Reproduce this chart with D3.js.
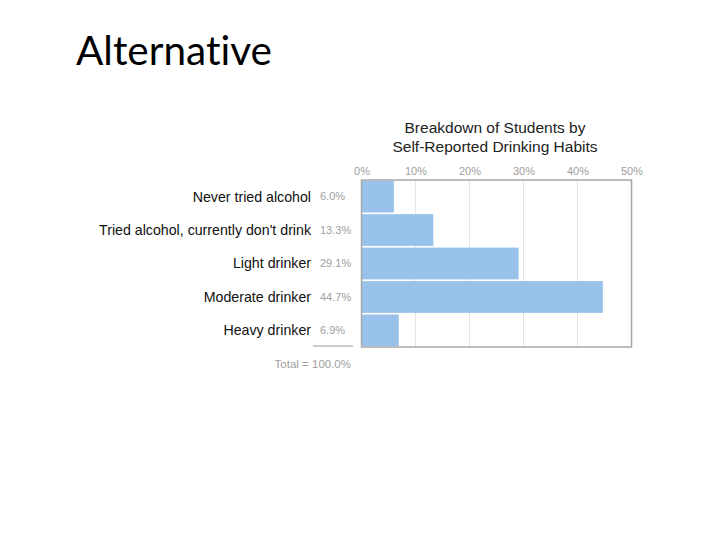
<!DOCTYPE html>
<html><head><meta charset="utf-8">
<script src="https://cdn.jsdelivr.net/npm/d3@7"></script>
<style>body{margin:0;background:#fff;} svg{display:block;} text{font-variant-ligatures:none;}</style>
</head><body>
<svg id="c" width="720" height="540"></svg>
<script>
const categories = ["Never tried alcohol","Tried alcohol, currently don't drink","Light drinker","Moderate drinker","Heavy drinker"];
const values = [6.0, 13.3, 29.1, 44.7, 6.9];
const valueLabels = ["6.0%","13.3%","29.1%","44.7%","6.9%"];
const tickValues = [0,10,20,30,40,50];
const tickLabels = ["0%","10%","20%","30%","40%","50%"];
const titleLines = ["Breakdown of Students by","Self-Reported Drinking Habits"];
const totalLabel = "Total = 100.0%";

const svg = d3.select("#c");
const ff = "'Liberation Sans', Arial, sans-serif";

svg.append("text").attr("x",76).attr("y",65)
  .attr("font-family","Lato, 'Open Sans', sans-serif").attr("font-size",40.5)
  .attr("fill","#000").text("Alternative");

const x = d3.scaleLinear().domain([0,50]).range([361.5,631.5]);
const y = d3.scaleBand().domain(categories).range([180,347]).paddingInner(0.05).paddingOuter(0.02);

// title
svg.selectAll("text.title").data(titleLines).enter().append("text")
  .attr("class","title").attr("x",495).attr("y",(d,i)=>133+i*18.5)
  .attr("text-anchor","middle").attr("font-family",ff).attr("font-size",15.5)
  .attr("fill","#222").text(d=>d);

// grid
svg.append("g").selectAll("line").data(tickValues.slice(1,-1)).enter().append("line")
  .attr("x1",d=>x(d)).attr("x2",d=>x(d)).attr("y1",180).attr("y2",347)
  .attr("stroke","#e4e4e4").attr("stroke-width",1);

// top axis labels
const ax = svg.append("g").attr("transform","translate(0,175)")
  .call(d3.axisTop(x).tickValues(tickValues).tickFormat((d,i)=>tickLabels[i]).tickSize(0).tickPadding(0));
ax.select(".domain").remove();
ax.selectAll("text").attr("font-family",ff).attr("font-size",11).attr("fill","#a0a0a0");

// bars
svg.append("g").selectAll("rect").data(values).enter().append("rect")
  .attr("x",x(0)).attr("y",(d,i)=>y(categories[i]))
  .attr("width",d=>x(d)-x(0)).attr("height",y.bandwidth())
  .attr("fill","#99c2ea");

// frame
svg.append("rect").attr("x",x(0)).attr("y",180).attr("width",x(50)-x(0)).attr("height",167)
  .attr("fill","none").attr("stroke","#a8a8a8").attr("stroke-width",1.5);

// category labels
svg.append("g").selectAll("text").data(categories).enter().append("text")
  .attr("x",311).attr("y",d=>y(d)+y.bandwidth()/2).attr("dy","0.35em")
  .attr("text-anchor","end").attr("font-family",ff).attr("font-size",14.2)
  .attr("fill","#111").text(d=>d);

// value labels
svg.append("g").selectAll("text").data(valueLabels).enter().append("text")
  .attr("x",320).attr("y",(d,i)=>y(categories[i])+y.bandwidth()/2).attr("dy","0.35em")
  .attr("font-family",ff).attr("font-size",11).attr("fill","#a0a0a0").text(d=>d);

// total separator
svg.append("line").attr("x1",313).attr("x2",353).attr("y1",346).attr("y2",346)
  .attr("stroke","#9a9a9a").attr("stroke-width",1);
svg.append("text").attr("x",351).attr("y",368).attr("text-anchor","end")
  .attr("font-family",ff).attr("font-size",11.5).attr("fill","#a0a0a0").text(totalLabel);
</script>
</body></html>
